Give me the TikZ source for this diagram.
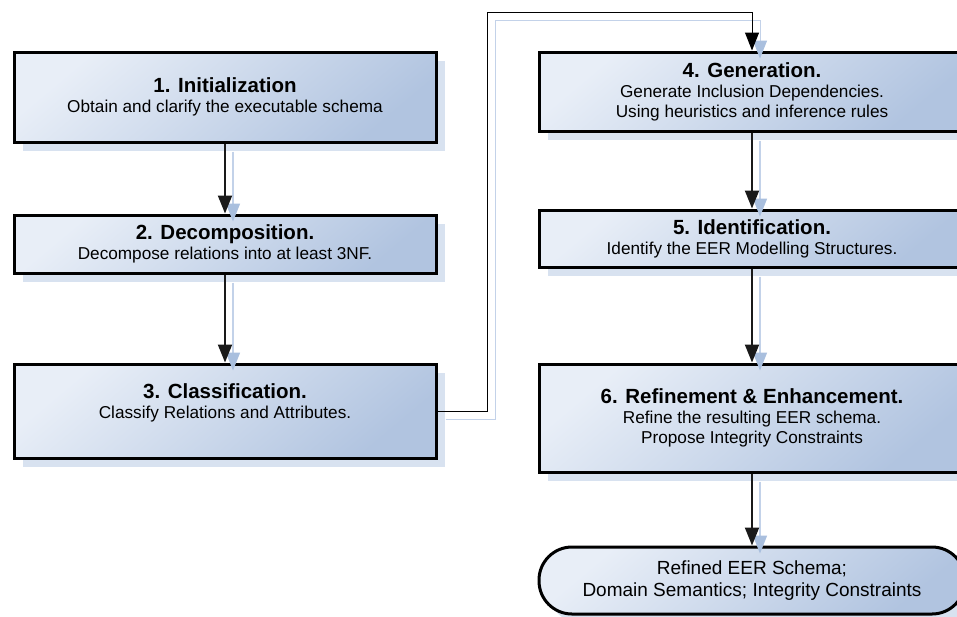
\documentclass[tikz,border=0pt]{standalone}
\usepackage{fontspec}
\setmainfont{Liberation Sans}
\usetikzlibrary{arrows.meta,shadows,calc}

\definecolor{boxlight}{HTML}{E8EEF7}
\definecolor{boxdark}{HTML}{B1C4E0}
\definecolor{shadowc}{HTML}{D8E2F0}
\definecolor{linkshadow}{HTML}{C3D2E9}
\definecolor{tipshadow}{HTML}{A9BFDE}
\definecolor{linkc}{HTML}{1A1A1A}

\newcommand\boxhead[1]{{\fontsize{20.5}{24}\selectfont\bfseries #1}}

\tikzset{
  stepbox/.style={draw=black, line width=3pt, inner sep=0pt,
    top color=boxlight, bottom color=boxdark, shading angle=40,
    general shadow={shadow xshift=9pt, shadow yshift=-9pt, fill=shadowc},
    align=center, font=\fontsize{17.2}{20}\selectfont},
  endbox/.style={stepbox, rounded corners=33pt, font=\fontsize{19}{22.5}\selectfont},
  link/.style={draw=linkc, line width=2pt,
    -{Triangle[length=18pt,width=14pt]}},
  thinlink/.style={draw=black, line width=1pt,
    -{Triangle[length=18pt,width=14pt]}},
  linkshade/.style={draw=linkshadow, line width=1.6pt,
    -{Triangle[length=18pt,width=14pt,fill=tipshadow,color=tipshadow]}},
  thinshade/.style={draw=linkshadow, line width=1pt,
    -{Triangle[length=18pt,width=14pt,fill=tipshadow,color=tipshadow]}},
}

\begin{document}
\begin{tikzpicture}[x=1pt,y=-1pt]
\useasboundingbox (0,0) rectangle (957,616);
\clip (0,0) rectangle (957,616);

% left column
\node[stepbox, minimum width=422pt, minimum height=90pt] (b1) at (225,97)
  {\boxhead{1. Initialization}\\ Obtain and clarify the executable schema};
\node[stepbox, minimum width=422pt, minimum height=58pt] (b2) at (225,244)
  {\boxhead{2. Decomposition.}\\ Decompose relations into at least 3NF.};
\node[stepbox, minimum width=422pt, minimum height=94pt] (b3) at (225,411)
  {\boxhead{3. Classification.}\\ Classify Relations and Attributes.\\ \mbox{}};

% right column
\node[stepbox, minimum width=426pt, minimum height=79pt] (b4) at (752,91.5)
  {\boxhead{4. Generation.}\\ Generate Inclusion Dependencies.\\ Using heuristics and inference rules};
\node[stepbox, minimum width=426pt, minimum height=57pt] (b5) at (752,238.5)
  {\boxhead{5. Identification.}\\ Identify the EER Modelling Structures.};
\node[stepbox, minimum width=426pt, minimum height=108pt] (b6) at (752,418)
  {\boxhead{6. Refinement \& Enhancement.}\\ Refine the resulting EER schema.\\ Propose Integrity Constraints};
\node[endbox, minimum width=426pt, minimum height=67pt] (out) at (752,580.5)
  {Refined EER Schema;\\ Domain Semantics; Integrity Constraints};

% route of the link from step 3 to step 4
\coordinate (up) at (487,12);
\coordinate (upshade) at (495,20);

% connector shadows
\draw[linkshade] ([shift={(8,8)}]b1.south) -- ([shift={(8,8)}]b2.north);
\draw[linkshade] ([shift={(8,8)}]b2.south) -- ([shift={(8,8)}]b3.north);
\draw[linkshade] ([shift={(8,8)}]b4.south) -- ([shift={(8,8)}]b5.north);
\draw[linkshade] ([shift={(8,8)}]b5.south) -- ([shift={(8,8)}]b6.north);
\draw[linkshade] ([shift={(8,8)}]b6.south) -- ([shift={(8,8)}]out.north);
\draw[thinshade] ([shift={(8,8)}]b3.east) -| (upshade) -| ([shift={(8,8)}]b4.north);

% connectors
\draw[link] (b1) -- (b2);
\draw[link] (b2) -- (b3);
\draw[link] (b4) -- (b5);
\draw[link] (b5) -- (b6);
\draw[link] (b6) -- (out);
\draw[thinlink] (b3.east) -| (up) -| (b4.north);
\end{tikzpicture}
\end{document}
